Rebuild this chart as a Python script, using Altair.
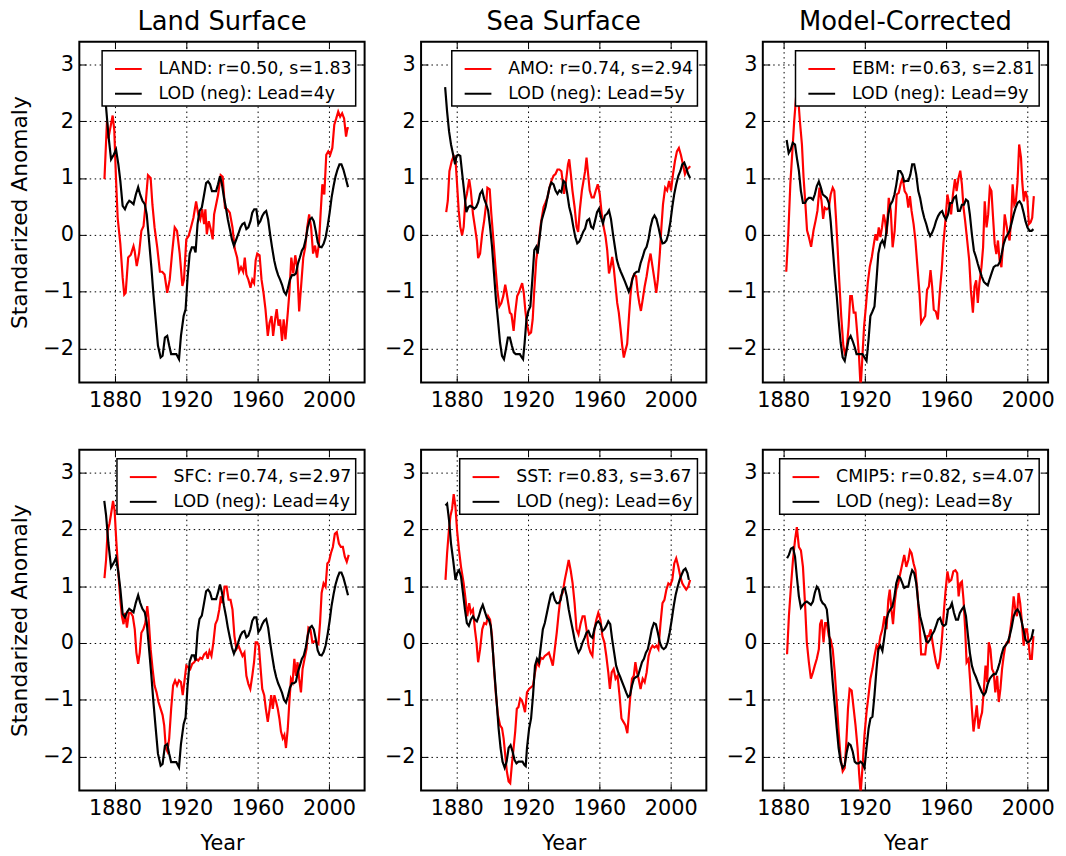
import altair as alt
import pandas as pd

FONT = "DejaVu Sans"
RED = "#ff0000"
BLACK = "#000000"

X_TICKS = [1880, 1920, 1960, 2000]
Y_TICKS = [-2, -1, 0, 1, 2, 3]
Y_DOMAIN = [-2.6, 3.4]
X_DOMAIN_WIDE = [1860, 2020]
X_DOMAIN_NARROW = [1870, 2010]

COL_TITLES = ["Land Surface", "Sea Surface", "Model-Corrected"]
RED_LABELS = ["LAND: r=0.50, s=1.83", "AMO: r=0.74, s=2.94", "EBM: r=0.63, s=2.81",
              "SFC: r=0.74, s=2.97", "SST: r=0.83, s=3.67", "CMIP5: r=0.82, s=4.07"]
BLACK_LABELS = ["LOD (neg): Lead=4y", "LOD (neg): Lead=5y", "LOD (neg): Lead=9y",
                "LOD (neg): Lead=4y", "LOD (neg): Lead=6y", "LOD (neg): Lead=8y"]

LAND = [(1874.1, 0.98), (1875.5, 2.0), (1876.3, 1.7), (1877.5, 1.9), (1878.7, 2.1), (1879.6, 1.85),
        (1880.5, 1.05), (1881.5, 0.3), (1883, -0.16), (1884.3, -0.75), (1885.2, -1.05), (1886, -1.02),
        (1887.4, -0.4), (1888.9, -0.35), (1890.4, -0.2), (1891, -0.28), (1892.2, -0.55), (1893.5, -0.33),
        (1894.8, 0.07), (1896, 0.15), (1897.2, 0.55), (1898.5, 1.05), (1900, 1.0), (1901, 0.53),
        (1902.2, 0.13), (1903.7, -0.22), (1905.2, -0.65), (1906.5, -0.65), (1907.8, -0.7), (1909.3, -1.02),
        (1910.7, -0.79), (1912, -0.33), (1913.5, 0.13), (1914.8, 0.07), (1916.3, -0.33), (1917.8, -0.9),
        (1918.7, -0.79), (1920, -0.08), (1921.3, -0.02), (1922.6, 0.13), (1924, 0.3), (1925.5, 0.59),
        (1926.7, 0.36), (1927.8, 0.27), (1928.9, 0.45), (1930, 0.19), (1930.7, 0.45), (1931.5, 0.01),
        (1932.6, 0.24), (1933.7, 0.1), (1934.8, -0.08), (1935.6, 0.36), (1936.7, 0.53), (1937.8, 0.7),
        (1939.3, 1.05), (1940.4, 1.02), (1941.7, 0.47), (1943, 0.45), (1944.4, 0.39), (1945.9, 0.13),
        (1947.2, -0.25), (1948.5, -0.4), (1949.6, -0.65), (1950.7, -0.57), (1951.9, -0.65), (1952.8, -0.4),
        (1953.7, -0.7), (1954.8, -0.79), (1956, -0.93), (1957, -0.79), (1958, -0.85), (1958.9, -0.45),
        (1959.8, -0.33), (1961.1, -0.36), (1962.2, -0.79), (1963.3, -1.02), (1964.4, -1.31), (1965.7, -1.78),
        (1966.7, -1.55), (1967.8, -1.43), (1968.7, -1.78), (1969.8, -1.49), (1970.7, -1.31), (1971.7, -1.6),
        (1972.6, -1.49), (1973.7, -1.87), (1974.6, -1.49), (1975.6, -1.84), (1976.9, -1.38), (1977.8, -1.02),
        (1978.9, -0.4), (1980, -0.68), (1981.1, -0.36), (1982.2, -0.57), (1983.3, -1.35), (1984.4, -0.9),
        (1985.6, -0.4), (1986.7, -0.22), (1987.8, 0.13), (1988.9, 0.36), (1990, 0.13), (1991.1, -0.33),
        (1992.2, -0.19), (1993.3, -0.4), (1994.4, -0.16), (1995.4, 0.42), (1996.3, 0.89), (1997.4, 0.71),
        (1998.5, 1.41), (1999.6, 1.47), (2000.7, 1.41), (2001.9, 1.53), (2003, 1.94), (2004.1, 2.05),
        (2005.2, 2.17), (2006.3, 2.08), (2007.4, 2.14), (2008.5, 2.05), (2009.6, 1.73), (2010.4, 1.88),
        (2011.1, 1.88)]

LOD_LEAD4 = [(1874, 2.5), (1875, 2.25), (1876.3, 1.76), (1877.8, 1.33), (1879.3, 1.41), (1880.6, 1.5),
             (1881.9, 1.24), (1883, 0.95), (1884.3, 0.51), (1885.6, 0.45), (1886.7, 0.54), (1888, 0.6),
             (1889.3, 0.57), (1890.4, 0.54), (1891.7, 0.71), (1893, 0.84), (1894.1, 0.71), (1895.4, 0.6),
             (1896.7, 0.54), (1897.8, 0.36), (1899.1, -0.1), (1900.4, -0.57), (1901.5, -1.02), (1902.8, -1.49),
             (1904.1, -1.95), (1905.6, -2.16), (1906.7, -2.13), (1908, -1.81), (1909.3, -1.78), (1910.4, -1.95),
             (1911.5, -2.1), (1913, -2.1), (1914.4, -2.1), (1915.9, -2.19), (1917, -1.78), (1918.5, -1.43),
             (1919.6, -1.31), (1920.7, -0.76), (1921.9, -0.33), (1923.1, -0.22), (1924.3, -0.22),
             (1925.2, -0.31), (1926.3, 0.19), (1927.4, 0.42), (1928.7, 0.48), (1930, 0.71), (1931.1, 0.91),
             (1932.2, 0.94), (1933.3, 0.89), (1934.4, 0.77), (1935.6, 0.77), (1936.7, 0.77), (1937.8, 0.89),
             (1938.9, 1.03), (1940, 0.89), (1941.1, 0.66), (1942.2, 0.48), (1943.3, 0.27), (1944.4, 0.1),
             (1945.6, -0.08), (1946.7, -0.19), (1947.8, -0.1), (1949.1, 0.01), (1950.4, 0.13), (1951.5, 0.19),
             (1952.6, 0.21), (1953.7, 0.1), (1954.8, 0.13), (1956, 0.24), (1957, 0.39), (1958.1, 0.45),
             (1959.3, 0.45), (1960.4, 0.19), (1961.5, 0.24), (1962.6, 0.33), (1963.7, 0.39), (1964.8, 0.42),
             (1965.9, 0.27), (1967, 0.01), (1968.1, -0.22), (1969.3, -0.45), (1970.4, -0.6), (1971.5, -0.71),
             (1972.6, -0.79), (1973.7, -0.88), (1974.8, -1.0), (1975.9, -1.05), (1977, -0.94), (1978.1, -0.79),
             (1979.3, -0.71), (1980.4, -0.71), (1981.5, -0.68), (1982.6, -0.51), (1983.7, -0.4), (1984.8, -0.28),
             (1985.9, -0.22), (1987, -0.08), (1988.1, 0.13), (1989.3, 0.27), (1990.4, 0.3), (1991.5, 0.24),
             (1992.6, 0.07), (1993.7, -0.13), (1994.8, -0.21), (1995.9, -0.22), (1997, -0.16), (1998.1, -0.05),
             (1999.3, 0.16), (2000.4, 0.39), (2001.5, 0.66), (2002.6, 0.86), (2003.7, 1.03), (2004.8, 1.15),
             (2005.9, 1.24), (2007, 1.24), (2008.1, 1.15), (2009.3, 1.01), (2010.7, 0.84)]

AMO = [(1874.1, 0.4), (1875, 0.6), (1875.9, 1.12), (1877.2, 1.3), (1878.3, 1.39), (1879.3, 1.33), (1880.2, 0.89),
       (1881.1, 0.43), (1882, 0.14), (1883, -0.01), (1883.9, 0.14), (1884.8, 0.6), (1885.7, 0.72), (1887, 0.98),
       (1887.9, 0.78), (1889.1, 0.37), (1890.2, 0.14), (1891.3, -0.1), (1892, -0.41), (1893.1, -0.33),
       (1894.3, 0.02), (1895.4, 0.25), (1896.5, 0.54), (1897.2, 0.83), (1898.5, 0.8), (1899.4, 0.37),
       (1900.6, -0.1), (1901.7, -0.56), (1902.8, -0.97), (1903.9, -1.26), (1905, -1.2), (1906.1, -1.08),
       (1907.2, -0.88), (1908, -1.02), (1908.9, -1.2), (1909.8, -1.37), (1910.7, -1.4), (1911.9, -1.69),
       (1912.8, -1.37), (1913.9, -1.08), (1914.8, -1.02), (1915.7, -0.94), (1916.7, -0.85), (1917.6, -1.02),
       (1918.5, -1.34), (1919.4, -1.58), (1920.6, -1.75), (1921.7, -1.72), (1922.6, -1.49), (1923.5, -0.97),
       (1924.6, -0.44), (1925.9, -0.15), (1927.2, 0.2), (1928.7, 0.49), (1929.8, 0.57), (1930.9, 0.66),
       (1932, 0.83), (1933.1, 0.95), (1934.3, 1.04), (1935.4, 1.07), (1936.5, 1.15), (1937.6, 1.15),
       (1938.7, 1.12), (1939.4, 0.95), (1940.2, 0.72), (1941.3, 0.95), (1942.4, 1.24), (1943.1, 1.33),
       (1944, 1.07), (1944.9, 0.78), (1946.1, 0.49), (1947.2, 0.14), (1948.1, 0.05), (1949, 0.43),
       (1950.2, 0.78), (1951.1, 0.95), (1952, 1.12), (1952.8, 1.36), (1953.7, 1.07), (1954.6, 0.78),
       (1955.7, 0.66), (1956.9, 0.66), (1958, 0.78), (1959.1, 0.89), (1960.2, 0.72), (1961.3, 0.37),
       (1962.4, 0.14), (1963.5, -0.04), (1964.4, -0.27), (1965.4, -0.68), (1966.3, -0.56), (1967.2, -0.39),
       (1968.1, -0.59), (1969.1, -0.91), (1970, -1.2), (1970.9, -1.37), (1971.9, -1.66), (1972.8, -1.95),
       (1973.7, -2.16), (1974.6, -2.04), (1975.6, -1.92), (1976.5, -1.49), (1977.4, -1.08), (1978.3, -0.79),
       (1979.4, -0.7), (1980.6, -0.73), (1981.5, -1.02), (1982.4, -1.2), (1983.3, -1.34), (1984.3, -1.14),
       (1985.4, -0.91), (1986.5, -0.73), (1987.6, -0.5), (1988.7, -0.33), (1989.8, -0.56), (1990.9, -0.79),
       (1991.9, -1.02), (1992.8, -0.79), (1993.9, -0.33), (1994.8, 0.14), (1995.7, 0.54), (1996.9, 0.83),
       (1998, 0.78), (1999.1, 0.95), (2000.2, 0.78), (2001.3, 1.07), (2002.4, 1.3), (2003.5, 1.47),
       (2004.6, 1.53), (2005.7, 1.41), (2006.9, 1.24), (2008, 1.07), (2009.1, 1.15), (2010.2, 1.18),
       (2010.9, 1.21)]

LOD_LEAD5 = [(1873.5, 2.6), (1874.6, 2.17), (1875.7, 1.82), (1876.8, 1.59), (1878, 1.41), (1879.1, 1.24),
             (1879.8, 1.39), (1880.9, 1.41), (1882, 1.39), (1883.1, 1.07), (1884.3, 0.72), (1885.4, 0.4),
             (1886.5, 0.49), (1887.6, 0.51), (1888.7, 0.49), (1889.8, 0.46), (1890.9, 0.49), (1892, 0.57),
             (1893.1, 0.72), (1894.3, 0.78), (1895.4, 0.63), (1896.5, 0.54), (1897.6, 0.43), (1898.7, 0.14),
             (1899.8, -0.21), (1900.9, -0.68), (1902, -1.14), (1903.1, -1.49), (1904.3, -1.9), (1905.4, -2.13),
             (1906.5, -2.19), (1907.6, -2.01), (1908.7, -1.81), (1909.8, -1.81), (1910.9, -1.95), (1912, -2.07),
             (1913.1, -2.1), (1914.3, -2.1), (1915.4, -2.1), (1916.5, -2.16), (1917.2, -2.19), (1918.1, -1.9),
             (1919.1, -1.49), (1920.2, -1.34), (1921.3, -1.26), (1922.4, -0.79), (1923.5, -0.27), (1924.6, -0.21),
             (1925.4, -0.33), (1926.5, -0.04), (1927.6, 0.25), (1928.7, 0.37), (1929.8, 0.49), (1930.9, 0.66),
             (1932, 0.83), (1933.1, 0.92), (1934.3, 0.89), (1935.4, 0.78), (1936.5, 0.72), (1937.6, 0.78),
             (1938.7, 0.75), (1939.8, 0.95), (1940.9, 0.92), (1942, 0.72), (1943.1, 0.49), (1944.3, 0.34),
             (1945.4, 0.14), (1946.5, -0.04), (1947.6, -0.15), (1948.7, -0.12), (1949.8, -0.04), (1950.9, 0.05),
             (1952, 0.11), (1953.1, 0.25), (1954.3, 0.28), (1955.4, 0.14), (1956.5, 0.11), (1957.6, 0.25),
             (1958.7, 0.4), (1959.8, 0.46), (1960.9, 0.31), (1962, 0.2), (1963.1, 0.34), (1964.3, 0.37),
             (1965.4, 0.43), (1966.5, 0.28), (1967.6, 0.02), (1968.7, -0.21), (1969.8, -0.44), (1970.9, -0.56),
             (1972, -0.65), (1973.1, -0.73), (1974.3, -0.82), (1975.4, -0.91), (1976.5, -1.0), (1977.6, -0.91),
             (1978.7, -0.76), (1979.8, -0.68), (1980.9, -0.65), (1982, -0.65), (1983.1, -0.5), (1984.3, -0.39),
             (1985.4, -0.27), (1986.5, -0.21), (1987.6, -0.07), (1988.7, 0.14), (1989.8, 0.28), (1990.9, 0.34),
             (1992, 0.28), (1993.1, 0.14), (1994.3, -0.04), (1995.4, -0.15), (1996.5, -0.14), (1997.6, -0.1),
             (1998.7, 0.02), (1999.8, 0.22), (2000.9, 0.49), (2002, 0.72), (2003.1, 0.89), (2004.3, 1.04),
             (2005.4, 1.12), (2006.5, 1.24), (2007.6, 1.27), (2008.7, 1.18), (2009.8, 1.07), (2010.9, 1.0)]

EBM = [(1881.5, -0.65), (1882.5, 0.01), (1883.5, 0.89), (1884.5, 1.47), (1885.4, 2.0), (1886.4, 2.46),
       (1887.4, 2.4), (1888.2, 2.0), (1889.2, 1.59), (1890, 1.01), (1890.9, 0.54), (1891.7, 0.08),
       (1892.6, -0.04), (1893.7, -0.21), (1894.9, 0.08), (1895.9, 0.25), (1896.8, 0.42), (1897.8, 0.83),
       (1898.8, 0.6), (1899.6, 0.28), (1900.4, 0.48), (1901.4, 0.45), (1902.4, 0.48), (1903.3, 0.71),
       (1904.3, 0.83), (1905.1, 0.77), (1905.9, 0.3), (1906.7, -0.22), (1907.5, -0.8), (1908.5, -1.44),
       (1909.5, -1.95), (1910.5, -2.13), (1911.3, -1.95), (1912.1, -1.61), (1912.9, -1.08), (1913.7, -1.08),
       (1914.6, -1.37), (1915.5, -1.37), (1916.3, -1.72), (1917.2, -2.13), (1918, -2.7), (1918.8, -2.19),
       (1919.7, -1.61), (1920.6, -1.26), (1921.5, -0.85), (1922.5, -0.56), (1923.5, -0.39), (1924.5, -0.16),
       (1925.3, 0.01), (1926.1, -0.1), (1926.9, 0.13), (1927.7, -0.04), (1928.5, 0.13), (1929.3, 0.36),
       (1930, 0.24), (1930.8, 0.01), (1931.8, 0.65), (1932.8, 0.42), (1933.7, -0.22), (1934.7, 0.07),
       (1935.7, 0.71), (1936.7, 0.74), (1937.6, 0.89), (1938.6, 1.01), (1939.6, 0.77), (1940.6, 0.71),
       (1941.4, 0.48), (1942.2, 0.68), (1943, 0.42), (1944, 0.19), (1944.9, -0.1), (1945.9, -0.57),
       (1946.9, -1.03), (1947.7, -1.55), (1948.7, -1.49), (1949.7, -1.43), (1950.6, -0.97), (1951.5, -0.91),
       (1952.3, -0.62), (1953.1, -0.91), (1953.9, -1.32), (1954.9, -1.35), (1955.9, -1.49), (1956.8, -1.03),
       (1957.8, -0.62), (1958.6, -0.16), (1959.6, 0.24), (1960.6, 0.71), (1961.5, 0.53), (1962.4, 0.36),
       (1963.3, 0.71), (1964.3, 0.98), (1965.1, 0.77), (1966.1, 1.01), (1966.9, 1.13), (1967.7, 0.89),
       (1968.5, 0.48), (1969.3, 0.24), (1970.3, -0.1), (1971.3, -0.45), (1972.1, -0.97), (1973.1, -1.37),
       (1973.9, -0.91), (1974.7, -0.8), (1975.5, -1.2), (1976.3, -0.85), (1977.3, -0.57), (1978.1, -0.22),
       (1978.9, 0.59), (1979.8, 0.13), (1980.6, 0.36), (1981.4, 0.83), (1982.2, 0.77), (1983, 0.3),
       (1983.8, -0.16), (1984.6, -0.34), (1985.4, -0.1), (1986.2, -0.45), (1987.1, -0.57), (1987.9, -0.16),
       (1988.7, 0.36), (1989.5, 0.19), (1990.3, 0.01), (1991.1, -0.1), (1991.8, 0.24), (1992.6, 0.89),
       (1993.4, 0.53), (1994.2, 0.59), (1995, 0.94), (1995.8, 1.59), (1996.7, 1.36), (1997.3, 0.94),
       (1998.1, 0.59), (1998.9, 0.77), (1999.8, 0.65), (2000.6, 0.19), (2001.4, 0.22), (2002.2, 0.3),
       (2003, 0.68)]

LOD_LEAD9 = [(1881.7, 1.67), (1882.7, 1.44), (1883.7, 1.5), (1884.7, 1.62), (1885.8, 1.59), (1886.7, 1.36),
             (1887.7, 1.13), (1888.7, 0.77), (1889.7, 0.56), (1890.7, 0.56), (1891.6, 0.62), (1892.6, 0.65),
             (1893.6, 0.65), (1894.6, 0.62), (1895.5, 0.71), (1896.5, 0.86), (1897.5, 0.94), (1898.5, 0.83),
             (1899.4, 0.71), (1900.4, 0.68), (1901.4, 0.65), (1902.4, 0.56), (1903.3, 0.24), (1904.3, -0.22),
             (1905.3, -0.69), (1906.3, -1.09), (1907.2, -1.5), (1908.2, -1.9), (1909.2, -2.16), (1910.2, -2.22),
             (1911.1, -2.04), (1912.1, -1.84), (1913.1, -1.78), (1914.1, -1.87), (1915.1, -1.98), (1916, -2.1),
             (1917, -2.1), (1918, -2.1), (1918.9, -2.1), (1919.9, -2.16), (1920.9, -2.22), (1921.9, -1.84),
             (1922.8, -1.43), (1923.8, -1.35), (1924.8, -1.26), (1925.8, -0.79), (1926.7, -0.33), (1927.7, -0.16),
             (1928.7, -0.1), (1929.7, -0.19), (1930.7, 0.07), (1931.6, 0.36), (1932.6, 0.53), (1933.6, 0.59),
             (1934.6, 0.71), (1935.5, 0.88), (1936.5, 1.12), (1937.5, 1.12), (1938.5, 1.06), (1939.4, 0.94),
             (1940.4, 0.95), (1941.4, 0.95), (1942.4, 1.06), (1943.3, 1.24), (1944.3, 1.24), (1945.3, 1.06),
             (1946.3, 0.77), (1947.2, 0.65), (1948.2, 0.45), (1949.2, 0.3), (1950.2, 0.19), (1951.1, 0.07),
             (1952.1, -0.02), (1953.1, 0.04), (1954.1, 0.13), (1955, 0.24), (1956, 0.33), (1957, 0.39),
             (1958, 0.42), (1958.9, 0.33), (1959.9, 0.27), (1960.9, 0.36), (1961.9, 0.56), (1962.8, 0.56),
             (1963.8, 0.65), (1964.8, 0.68), (1965.8, 0.42), (1966.7, 0.42), (1967.7, 0.53), (1968.7, 0.53),
             (1969.7, 0.62), (1970.7, 0.59), (1971.6, 0.36), (1972.6, 0.01), (1973.6, -0.28), (1974.6, -0.39),
             (1975.5, -0.51), (1976.5, -0.63), (1977.5, -0.74), (1978.5, -0.83), (1979.4, -0.86), (1980.4, -0.89),
             (1981.4, -0.77), (1982.4, -0.66), (1983.3, -0.57), (1984.3, -0.54), (1985.3, -0.54), (1986.3, -0.48),
             (1987.2, -0.34), (1988.2, -0.16), (1989.2, -0.05), (1990.2, 0.01), (1991.1, 0.07), (1992.1, 0.21),
             (1993.1, 0.36), (1994.1, 0.48), (1995, 0.56), (1996, 0.59), (1997, 0.53), (1998, 0.39),
             (1998.9, 0.24), (1999.9, 0.13), (2000.9, 0.07), (2001.9, 0.07), (2002.8, 0.1)]

SFC = [(1874.1, 1.14), (1875, 1.46), (1875.9, 1.98), (1876.9, 2.1), (1877.8, 2.27), (1878.9, 2.5), (1879.8, 2.33),
       (1880.7, 1.81), (1881.9, 1.23), (1883, 0.76), (1883.9, 0.47), (1884.8, 0.33), (1885.7, 0.53),
       (1886.7, 0.27), (1887.8, 0.53), (1888.9, 0.53), (1890, 0.47), (1891.1, 0.24), (1892, -0.17),
       (1893, -0.37), (1893.9, -0.17), (1894.8, 0.18), (1895.9, 0.24), (1897, 0.35), (1898.1, 0.65),
       (1898.9, 0.41), (1900, -0.11), (1901.1, -0.46), (1902.2, -0.75), (1903.3, -0.87), (1904.4, -1.04),
       (1905.6, -1.16), (1906.7, -1.27), (1907.6, -1.45), (1908.5, -1.85), (1909.4, -1.91), (1910.4, -1.68),
       (1911.5, -1.16), (1912.6, -0.75), (1913.7, -0.66), (1914.8, -0.75), (1915.9, -0.66), (1917, -0.69),
       (1918, -0.92), (1918.9, -0.69), (1920, -0.4), (1921.1, -0.43), (1922.2, -0.46), (1923.3, -0.37),
       (1924.4, -0.34), (1925.6, -0.28), (1926.7, -0.31), (1927.8, -0.26), (1928.9, -0.28), (1930, -0.2),
       (1931.1, -0.17), (1932, -0.28), (1933, -0.14), (1934.1, -0.23), (1935.2, 0.01), (1936.3, 0.33),
       (1937.4, 0.41), (1938.5, 0.59), (1939.4, 0.82), (1940.4, 0.7), (1941.5, 0.99), (1942.6, 0.99),
       (1943.7, 0.76), (1944.8, 0.76), (1945.9, 0.59), (1947, 0.12), (1948.1, -0.11), (1949.3, -0.05),
       (1950.4, -0.14), (1951.5, -0.23), (1952.6, -0.17), (1953.7, -0.58), (1954.8, -0.72), (1955.9, -0.81),
       (1957, -0.58), (1958, -0.34), (1958.9, 0.01), (1959.8, 0.01), (1960.7, -0.05), (1961.7, -0.46),
       (1962.6, -0.81), (1963.7, -0.92), (1964.6, -1.16), (1965.7, -1.39), (1966.7, -1.16), (1967.6, -0.92),
       (1968.5, -1.16), (1969.4, -0.92), (1970.4, -1.04), (1971.3, -1.16), (1972.2, -1.33), (1973.1, -1.56),
       (1974.1, -1.68), (1975, -1.62), (1975.9, -1.85), (1976.9, -1.51), (1977.8, -1.04), (1978.7, -0.63),
       (1979.6, -0.69), (1980.6, -0.28), (1981.5, -0.58), (1982.4, -0.34), (1983.3, -0.63), (1984.3, -0.87),
       (1985.2, -0.46), (1986.3, -0.28), (1987.4, -0.11), (1988.5, 0.27), (1989.6, 0.24), (1990.7, 0.01),
       (1991.9, 0.03), (1993, 0.01), (1994.1, -0.02), (1995, 0.35), (1995.9, 0.88), (1997, 1.05),
       (1998.1, 0.99), (1999.1, 1.4), (2000, 1.43), (2001.1, 1.58), (2002.2, 1.69), (2003.3, 1.92),
       (2004.4, 1.95), (2005.6, 1.75), (2006.7, 1.69), (2007.8, 1.69), (2008.9, 1.52), (2010, 1.43),
       (2011.1, 1.55)]

SST = [(1873.7, 1.11), (1874.6, 1.58), (1875.6, 1.98), (1876.5, 2.24), (1877.4, 2.36), (1878.3, 2.62),
       (1879.3, 2.39), (1880.2, 1.98), (1881.3, 1.63), (1882.4, 1.34), (1883.9, 1.05), (1885, 0.76),
       (1885.9, 0.47), (1887, 0.7), (1887.9, 0.53), (1889.1, 0.59), (1890.2, 0.24), (1891.1, 0.01),
       (1892, -0.34), (1893.1, -0.11), (1894.3, 0.24), (1895.4, 0.35), (1896.5, 0.33), (1897.6, 0.47),
       (1898.7, 0.41), (1899.8, 0.12), (1900.9, -0.46), (1902, -0.92), (1903.1, -1.27), (1904.3, -1.45),
       (1905.4, -1.5), (1906.3, -1.68), (1907.2, -1.97), (1908.1, -2.26), (1909.1, -2.44), (1910, -2.47),
       (1910.9, -2.15), (1911.9, -1.85), (1912.8, -1.56), (1913.7, -1.16), (1914.6, -1.13), (1915.6, -0.98),
       (1916.5, -1.01), (1917.4, -1.1), (1918.3, -1.22), (1919.4, -0.87), (1920.6, -0.81), (1921.7, -0.78),
       (1922.8, -0.75), (1923.9, -0.52), (1925, -0.34), (1926.1, -0.4), (1927.2, -0.26), (1928.3, -0.28),
       (1929.4, -0.23), (1930.6, -0.2), (1931.7, -0.17), (1932.8, -0.28), (1933.9, -0.4), (1935, -0.11),
       (1936.1, 0.18), (1937.2, 0.53), (1938.3, 0.82), (1939.4, 0.88), (1940.6, 1.11), (1941.7, 1.28),
       (1942.8, 1.46), (1943.9, 1.28), (1945, 1.05), (1946.1, 0.7), (1947.2, 0.24), (1948.3, 0.15),
       (1949.4, 0.33), (1950.6, 0.47), (1951.7, 0.47), (1952.8, 0.24), (1953.9, -0.05), (1955, -0.17),
       (1956.1, -0.23), (1957.2, 0.24), (1958.3, 0.41), (1959.4, 0.53), (1960.6, 0.41), (1961.7, 0.12),
       (1962.8, 0.01), (1963.9, -0.23), (1965, -0.52), (1965.9, -0.81), (1966.9, -0.52), (1968, -0.46),
       (1969.1, -0.63), (1970.2, -0.58), (1971.3, -0.92), (1972.4, -1.33), (1973.5, -1.39), (1974.6, -1.45),
       (1975.7, -1.59), (1976.5, -1.27), (1977.4, -0.92), (1978.3, -0.63), (1979.3, -0.58), (1980.2, -0.34),
       (1981.1, -0.52), (1982, -0.63), (1983.1, -0.81), (1984.3, -0.63), (1985.4, -0.69), (1986.5, -0.52),
       (1987.6, -0.23), (1988.7, -0.11), (1989.8, -0.05), (1990.9, -0.08), (1992, -0.05), (1993.1, -0.11),
       (1994.3, 0.35), (1995.4, 0.7), (1996.5, 0.76), (1997.6, 0.94), (1998.7, 1.05), (1999.8, 1.02),
       (2000.9, 1.11), (2002, 1.4), (2003.1, 1.49), (2004.3, 1.34), (2005.4, 1.17), (2006.5, 1.05),
       (2007.6, 0.99), (2008.7, 0.94), (2009.8, 0.99), (2010.9, 1.11)]

LOD_LEAD6 = [(1873.7, 2.42), (1874.6, 2.45), (1875.7, 2.16), (1876.8, 1.75), (1878, 1.46), (1879.3, 1.11),
             (1880.2, 1.23), (1881.3, 1.28), (1882.4, 1.17), (1883.5, 0.88), (1884.6, 0.59), (1885.7, 0.35),
             (1886.8, 0.3), (1887.9, 0.41), (1889.1, 0.47), (1890.2, 0.41), (1891.3, 0.38), (1892.4, 0.47),
             (1893.5, 0.59), (1894.6, 0.67), (1895.7, 0.56), (1896.9, 0.44), (1898, 0.41), (1899.1, 0.3),
             (1900.2, -0.11), (1901.3, -0.58), (1902.4, -1.04), (1903.5, -1.51), (1904.6, -1.85), (1905.7, -2.09),
             (1906.9, -2.2), (1908, -2.09), (1909.1, -1.85), (1910.2, -1.8), (1911.3, -1.91), (1912.4, -2.06),
             (1913.5, -2.12), (1914.6, -2.09), (1915.7, -2.09), (1916.9, -2.09), (1918, -2.15), (1918.7, -2.17),
             (1919.4, -1.85), (1920.6, -1.51), (1921.7, -1.33), (1922.8, -0.92), (1923.9, -0.4), (1925, -0.28),
             (1926.1, -0.34), (1927.2, -0.05), (1928.3, 0.24), (1929.4, 0.35), (1930.6, 0.53), (1931.7, 0.7),
             (1932.8, 0.85), (1933.9, 0.88), (1935, 0.76), (1936.1, 0.7), (1937.2, 0.7), (1938.3, 0.76),
             (1939.4, 0.94), (1940.6, 0.97), (1941.7, 0.82), (1942.8, 0.59), (1943.9, 0.41), (1945, 0.24),
             (1946.1, 0.06), (1947.2, -0.08), (1948.3, -0.17), (1949.4, -0.11), (1950.6, 0.01), (1951.7, 0.09),
             (1952.8, 0.18), (1953.9, 0.21), (1955, 0.12), (1956.1, 0.09), (1957.2, 0.24), (1958.3, 0.35),
             (1959.4, 0.38), (1960.6, 0.33), (1961.7, 0.21), (1962.8, 0.24), (1963.9, 0.3), (1965, 0.38),
             (1966.1, 0.33), (1967.2, 0.06), (1968.3, -0.17), (1969.4, -0.4), (1970.6, -0.52), (1971.7, -0.6),
             (1972.8, -0.69), (1973.9, -0.78), (1975, -0.87), (1976.1, -0.95), (1977.2, -0.92), (1978.3, -0.75),
             (1979.4, -0.63), (1980.6, -0.6), (1981.7, -0.58), (1982.8, -0.46), (1983.9, -0.34), (1985, -0.28),
             (1986.1, -0.17), (1987.2, -0.11), (1988.3, 0.06), (1989.4, 0.24), (1990.6, 0.35), (1991.7, 0.33),
             (1992.8, 0.18), (1993.9, 0.01), (1995, -0.08), (1996.1, -0.11), (1997.2, -0.08), (1998.3, 0.01),
             (1999.4, 0.18), (2000.6, 0.41), (2001.7, 0.65), (2002.8, 0.85), (2003.9, 0.99), (2005, 1.11),
             (2006.1, 1.2), (2007.2, 1.28), (2008.3, 1.31), (2009.4, 1.23), (2010.2, 1.11)]

CMIP5 = [(1881.9, -0.2), (1882.8, 0.47), (1883.8, 0.99), (1884.8, 1.46), (1885.8, 1.81), (1886.7, 2.04),
         (1887.7, 1.69), (1888.7, 1.63), (1889.7, 1.34), (1890.7, 0.7), (1891.6, 0.01), (1892.6, -0.34),
         (1893.6, -0.63), (1894.6, -0.52), (1895.5, -0.4), (1896.5, -0.28), (1897.5, -0.11), (1898.1, 0.33),
         (1898.9, 0.41), (1899.8, 0.01), (1900.6, 0.35), (1901.4, 0.35), (1902.4, 0.12), (1903.3, 0.06),
         (1904.3, -0.11), (1905.3, -0.52), (1906.3, -1.04), (1907.2, -1.56), (1908.2, -2.03), (1909.2, -2.26),
         (1910.2, -2.2), (1911, -1.74), (1911.8, -1.16), (1912.6, -0.81), (1913.6, -0.84), (1914.6, -1.16),
         (1915.5, -1.45), (1916.5, -1.85), (1917.3, -2.32), (1918, -2.65), (1918.9, -2.2), (1919.9, -1.62),
         (1920.9, -1.22), (1921.9, -0.92), (1922.8, -0.63), (1923.8, -0.46), (1924.8, -0.23), (1925.8, -0.05),
         (1926.7, -0.11), (1927.7, 0.12), (1928.7, 0.24), (1929.7, 0.47), (1930.7, 0.24), (1931.6, 0.76),
         (1932.3, 0.94), (1933.1, 0.59), (1933.9, 0.33), (1934.7, 0.7), (1935.5, 0.94), (1936.5, 1.05),
         (1937.5, 1.23), (1938.5, 1.4), (1939.4, 1.55), (1940.4, 1.34), (1941.4, 1.46), (1942.2, 1.63),
         (1943, 1.58), (1944, 1.4), (1944.9, 1.28), (1945.9, 0.88), (1946.9, 0.35), (1947.7, -0.2),
         (1948.7, -0.2), (1949.7, -0.2), (1950.7, 0.12), (1951.5, 0.12), (1952.4, 0.24), (1953.3, 0.01),
         (1954.1, -0.17), (1955, -0.34), (1956, -0.46), (1957, -0.28), (1958, 0.12), (1958.8, 0.53),
         (1959.6, 0.88), (1960.6, 1.26), (1961.5, 1.08), (1962.5, 1.11), (1963.5, 1.26), (1964.5, 1.28),
         (1965.4, 1.23), (1966.1, 0.82), (1966.9, 1.05), (1967.7, 1.08), (1968.5, 0.76), (1969.3, 0.24),
         (1970, -0.34), (1971, -0.28), (1971.8, -0.69), (1972.6, -1.16), (1973.4, -1.56), (1974.2, -1.33),
         (1975, -1.1), (1975.9, -1.51), (1976.8, -1.33), (1977.6, -1.22), (1978.5, -0.81), (1979.3, -0.4),
         (1980.1, -0.69), (1980.9, 0.01), (1981.7, -0.11), (1982.5, -0.46), (1983.3, -0.52), (1984.1, -0.87),
         (1985, -0.58), (1985.8, -1.04), (1986.6, -0.81), (1987.4, -0.46), (1988.2, -0.23), (1989, -0.05),
         (1989.8, 0.01), (1990.7, 0.01), (1991.5, 0.24), (1992.3, 0.47), (1993.1, 0.82), (1993.9, 0.59),
         (1994.7, 0.47), (1995.5, 0.88), (1996.3, 0.7), (1997.2, 0.35), (1998, -0.05), (1998.8, 0.24),
         (1999.6, 0.24), (2000.4, 0.01), (2001.2, -0.28), (2002, -0.28), (2002.8, 0.12)]

LOD_LEAD8 = [(1881.9, 1.49), (1882.8, 1.55), (1883.8, 1.66), (1884.8, 1.68), (1885.8, 1.52), (1886.7, 1.17),
             (1887.7, 0.82), (1888.7, 0.62), (1889.7, 0.67), (1890.7, 0.71), (1891.6, 0.73), (1892.6, 0.7),
             (1893.6, 0.67), (1894.6, 0.73), (1895.5, 0.88), (1896.5, 0.99), (1897.5, 0.94), (1898.5, 0.76),
             (1899.4, 0.7), (1900.4, 0.67), (1901.4, 0.59), (1902.4, 0.24), (1903.3, -0.23), (1904.3, -0.69),
             (1905.3, -1.1), (1906.3, -1.51), (1907.2, -1.85), (1908.2, -2.09), (1909.2, -2.2), (1910.2, -2.15),
             (1911.1, -1.94), (1912.1, -1.77), (1913.1, -1.8), (1914.1, -1.91), (1915.1, -2.09), (1916, -2.12),
             (1917, -2.12), (1918, -2.09), (1918.9, -2.12), (1919.9, -2.2), (1920.9, -1.85), (1921.9, -1.51),
             (1922.8, -1.33), (1923.8, -1.3), (1924.8, -0.92), (1925.8, -0.46), (1926.7, -0.11), (1927.7, -0.05),
             (1928.7, -0.14), (1929.7, 0.12), (1930.7, 0.41), (1931.6, 0.53), (1932.6, 0.59), (1933.6, 0.64),
             (1934.6, 0.82), (1935.5, 1.05), (1936.5, 1.17), (1937.5, 1.14), (1938.5, 1.05), (1939.4, 0.97),
             (1940.4, 0.99), (1941.4, 0.99), (1942.4, 1.17), (1943.3, 1.28), (1944.3, 1.23), (1945.3, 1.05),
             (1946.3, 0.7), (1947.2, 0.47), (1948.2, 0.33), (1949.2, 0.18), (1950.2, 0.03), (1951.1, 0.01),
             (1952.1, 0.06), (1953.1, 0.15), (1954.1, 0.21), (1955, 0.3), (1956, 0.41), (1957, 0.44),
             (1958, 0.33), (1958.9, 0.3), (1959.9, 0.33), (1960.9, 0.59), (1961.9, 0.62), (1962.8, 0.7),
             (1963.8, 0.53), (1964.8, 0.41), (1965.8, 0.41), (1966.7, 0.53), (1967.7, 0.59), (1968.7, 0.64),
             (1969.7, 0.47), (1970.7, 0.12), (1971.6, -0.17), (1972.6, -0.4), (1973.6, -0.52), (1974.6, -0.6),
             (1975.5, -0.69), (1976.5, -0.78), (1977.5, -0.87), (1978.5, -0.92), (1979.4, -0.87), (1980.4, -0.72),
             (1981.4, -0.63), (1982.4, -0.58), (1983.3, -0.55), (1984.3, -0.55), (1985.3, -0.46), (1986.3, -0.34),
             (1987.2, -0.2), (1988.2, -0.08), (1989.2, -0.04), (1990.2, 0.01), (1991.1, 0.12), (1992.1, 0.27),
             (1993.1, 0.47), (1994.1, 0.56), (1995, 0.59), (1996, 0.53), (1997, 0.38), (1998, 0.21),
             (1998.9, 0.06), (1999.9, 0.01), (2000.9, 0.03), (2001.9, 0.09), (2002.8, 0.24)]

PANELS = [
    (LAND, LOD_LEAD4, X_DOMAIN_WIDE),
    (AMO, LOD_LEAD5, X_DOMAIN_WIDE),
    (EBM, LOD_LEAD9, X_DOMAIN_NARROW),
    (SFC, LOD_LEAD4, X_DOMAIN_WIDE),
    (SST, LOD_LEAD6, X_DOMAIN_WIDE),
    (CMIP5, LOD_LEAD8, X_DOMAIN_NARROW),
]

W, H = 288, 344
TICK = 7
GRID_DASH = [1.5, 3.5]


def frame_df(pairs, label):
    return pd.DataFrame({"year": [p[0] for p in pairs],
                         "value": [p[1] for p in pairs],
                         "series": label})


def tick_axis(orient):
    return alt.Axis(orient=orient, offset=-TICK, tickSize=TICK, ticks=True, tickColor="black",
                    tickWidth=1, labels=False, domain=False, grid=False, title=None,
                    values=X_TICKS if orient in ("top", "bottom") else Y_TICKS)


def make_panel(i):
    red_pairs, blk_pairs, x_domain = PANELS[i]
    red_label, blk_label = RED_LABELS[i], BLACK_LABELS[i]
    red_df = frame_df(red_pairs, red_label)
    blk_df = frame_df(blk_pairs, blk_label)
    both = pd.concat([red_df, blk_df], ignore_index=True)

    xs = alt.Scale(domain=x_domain, nice=False, zero=False)
    ys = alt.Scale(domain=Y_DOMAIN, nice=False, zero=False)
    cs = alt.Scale(domain=[red_label, blk_label], range=[RED, BLACK])
    legend = alt.Legend(title=None, orient="top-right", offset=9, fillColor="white",
                        strokeColor="black", padding=4, rowPadding=2, symbolType="stroke",
                        symbolSize=729, symbolStrokeWidth=2, symbolOffset=8, labelOffset=16,
                        labelFontSize=17.5, labelFont=FONT, labelColor="black", labelLimit=400)

    x_main = alt.Axis(orient="bottom", values=X_TICKS, format="d", grid=True, gridColor="black",
                      gridDash=GRID_DASH, gridWidth=1, ticks=False, tickSize=0, domain=False,
                      labelFont=FONT, labelFontSize=21, labelColor="black", labelPadding=7,
                      title="Year" if i >= 3 else None, titleFont=FONT, titleFontSize=21,
                      titleFontWeight="normal", titleColor="black", titlePadding=14)
    y_main = alt.Axis(orient="left", values=Y_TICKS, grid=True, gridColor="black",
                      gridDash=GRID_DASH, gridWidth=1, ticks=False, tickSize=0, domain=False,
                      labelFont=FONT, labelFontSize=21, labelColor="black", labelPadding=6,
                      title="Standarized Anomaly" if i % 3 == 0 else None, titleFont=FONT,
                      titleFontSize=22, titleFontWeight="normal", titleColor="black",
                      titlePadding=11)

    red = alt.Chart(red_df).mark_line(strokeWidth=2.2, clip=True).encode(
        x=alt.X("year:Q", scale=xs, axis=x_main),
        y=alt.Y("value:Q", scale=ys, axis=y_main),
        color=alt.Color("series:N", scale=cs, legend=legend),
    )
    blk = alt.Chart(blk_df).mark_line(strokeWidth=2.2, clip=True).encode(
        x=alt.X("year:Q", scale=xs, axis=tick_axis("bottom")),
        y=alt.Y("value:Q", scale=ys, axis=tick_axis("left")),
        color=alt.Color("series:N", scale=cs, legend=legend),
    )
    ghost = alt.Chart(both).mark_line(opacity=0, clip=True).encode(
        x=alt.X("year:Q", scale=xs, axis=tick_axis("top")),
        y=alt.Y("value:Q", scale=ys, axis=tick_axis("right")),
        detail="series:N",
    )
    panel = alt.layer(red, blk, ghost).resolve_axis(x="independent", y="independent")
    if i < 3:
        panel = panel.properties(width=W, height=H,
                                 title=alt.Title(COL_TITLES[i], font=FONT, fontSize=26,
                                                 fontWeight="normal", color="black", offset=-15,
                                                 frame="group", anchor="middle",
                                                 baseline="alphabetic"))
    else:
        panel = panel.properties(width=W, height=H)
    return panel


chart = alt.concat(*[make_panel(i) for i in range(6)], columns=3,
                   spacing={"row": 68, "column": 57}, bounds="flush").resolve_scale(
    x="independent", y="independent", color="independent"
).properties(
    padding={"left": 0, "top": -4, "right": 2, "bottom": 0}, background="white"
).configure_view(
    stroke="black", strokeWidth=2
).configure_legend(
    strokeWidth=1.5
)

chart.save("out.html", embed_options={"renderer": "svg", "actions": False})
